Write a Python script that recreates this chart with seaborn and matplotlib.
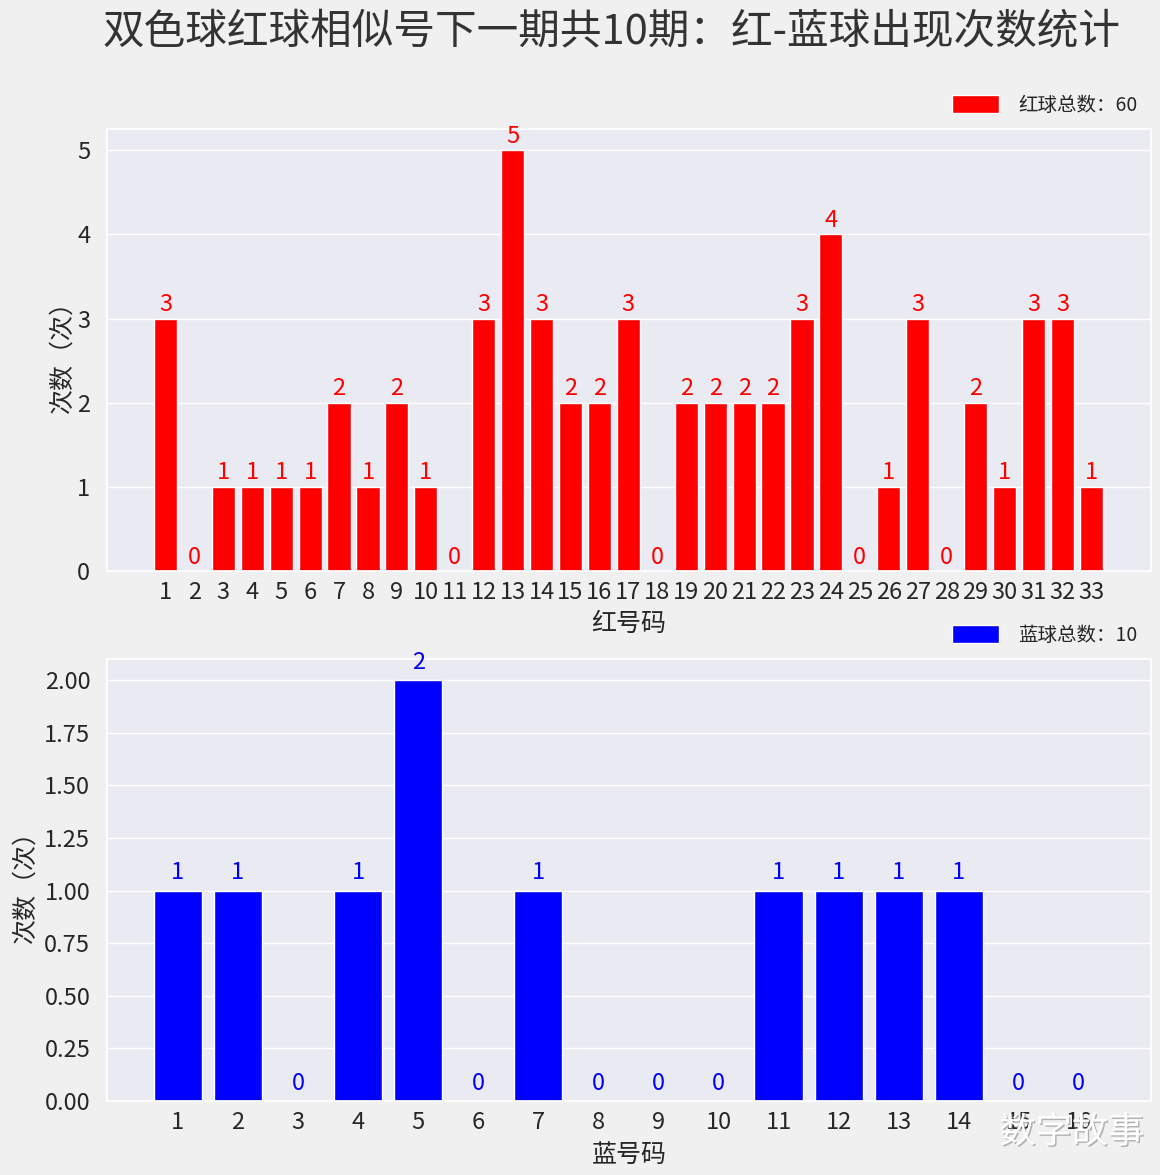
import matplotlib
matplotlib.use("Agg")
import matplotlib.pyplot as plt
import matplotlib.patheffects as pe
import seaborn as sns
import pandas as pd

# --- data ---
red_numbers = list(range(1, 34))
red_counts = [3, 0, 1, 1, 1, 1, 2, 1, 2, 1, 0, 3, 5, 3, 2, 2, 3, 0, 2, 2, 2, 2, 3, 4, 0, 1, 3, 0, 2, 1, 3, 3, 1]
blue_numbers = list(range(1, 17))
blue_counts = [1, 1, 0, 1, 2, 0, 1, 0, 0, 0, 1, 1, 1, 1, 0, 0]

title = "双色球红球相似号下一期共10期：红-蓝球出现次数统计"

# --- style ---
sns.set_theme(style="darkgrid", rc={"figure.facecolor": "#f0f0f0", "axes.facecolor": "#eaeaf2"})
plt.rcParams["font.family"] = ["Noto Sans CJK SC", "DejaVu Sans"]
plt.rcParams["axes.unicode_minus"] = False

fig = plt.figure(figsize=(11.6, 11.75), dpi=100)
ax1 = fig.add_axes([0.0922, 0.514, 0.9, 0.376])
ax2 = fig.add_axes([0.0922, 0.063, 0.9, 0.376])

df_red = pd.DataFrame({"num": [str(n) for n in red_numbers], "count": red_counts})
df_blue = pd.DataFrame({"num": [str(n) for n in blue_numbers], "count": blue_counts})

legend_kw = dict(loc="lower right", bbox_to_anchor=(1.0, 1.0), frameon=False, fontsize=14,
                 handlelength=2.4, handleheight=1.0, handletextpad=1.0, borderaxespad=0.3)

# --- red balls ---
sns.barplot(data=df_red, x="num", y="count", color="red", saturation=1, width=0.8,
            label=f"红球总数：{sum(red_counts)}", ax=ax1)
for i, v in enumerate(red_counts):
    ax1.text(i, v + 0.03, str(v), color="red", ha="center", va="bottom", fontsize=17)
ax1.set_xlim(-2.02, 34.06)
ax1.set_ylim(0, 5.25)
ax1.set_xlabel("红号码", fontsize=18, labelpad=5)
ax1.set_ylabel("次数（次）", fontsize=18, labelpad=1)
ax1.tick_params(axis="x", labelsize=17, pad=1)
ax1.tick_params(axis="y", labelsize=17, pad=6)
ax1.legend(**legend_kw)

# --- blue balls ---
sns.barplot(data=df_blue, x="num", y="count", color="blue", saturation=1, width=0.8,
            label=f"蓝球总数：{sum(blue_counts)}", ax=ax2)
for i, v in enumerate(blue_counts):
    ax2.text(i, v + 0.03, str(v), color="blue", ha="center", va="bottom", fontsize=17)
ax2.set_xlim(-1.18, 16.2)
ax2.set_ylim(0, 2.1)
ax2.set_yticks([0, 0.25, 0.5, 0.75, 1.0, 1.25, 1.5, 1.75, 2.0])
ax2.yaxis.set_major_formatter(matplotlib.ticker.FormatStrFormatter("%.2f"))
ax2.set_xlabel("蓝号码", fontsize=18, labelpad=6)
ax2.set_ylabel("次数（次）", fontsize=18)
ax2.tick_params(axis="x", labelsize=17, pad=1)
ax2.tick_params(axis="y", labelsize=17, pad=6)
ax2.legend(**legend_kw)

fig.text(0.527, 0.973, title, ha="center", va="center", fontsize=30, color="#333333")

# watermark (sits over the last tick labels, as in the source image)
fig.text(0.924, 0.036, "数字故事", ha="center", va="center", fontsize=26, color="white",
         path_effects=[pe.withSimplePatchShadow(offset=(1, -1), shadow_rgbFace="#888888", alpha=0.6)])

fig.savefig("out.png", dpi=100, facecolor=fig.get_facecolor())
